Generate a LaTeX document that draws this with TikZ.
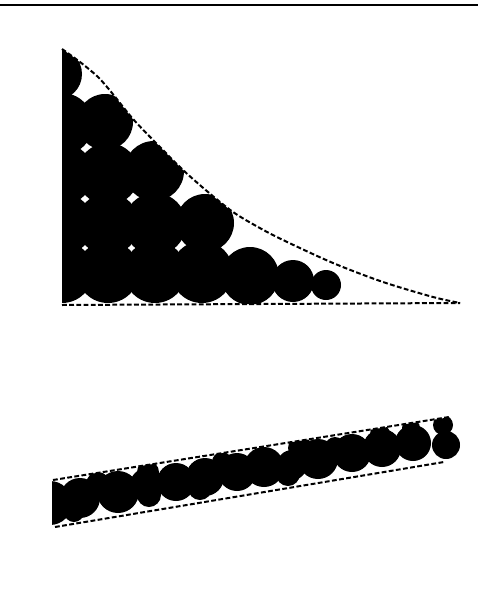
\documentclass[tikz,border=0pt]{standalone}
\begin{document}
\begin{tikzpicture}[x=0.5pt,y=-0.5pt,
  blob/.style={fill=black},
  guide/.style={draw=black,line width=1pt,dash pattern=on 2.4pt off 1.2pt},
  rule/.style={draw=black,line width=1.3pt}]
\useasboundingbox (0,0) rectangle (478,589);
\draw[rule] (0,5) -- (478,5);
% ---------- upper figure ----------
\def\curvepts{(62,49) (80,62) (98,77) (112,93) (133,119) (158,145) (183,170) (208,192) (233,212) (258,227) (283,240) (333,263) (383,282) (433,297) (460,303)}
\begin{scope}
  \clip plot[smooth] coordinates {\curvepts} -- (62,305) -- cycle;
  \foreach \x/\y/\r in {62/272/31,108/272/31,155/272/31,202/272/31,250/276/29,293/281/21,326/285/15,
                        62/224/31,108/224/31,155/224/31,205/223/29,
                        62/174/31,108/174/31,154/171/30,
                        62/124/31,105/122/28,
                        56/74/26}
    \fill[blob] (\x,\y) circle[radius=\r];
\end{scope}
\draw[guide] plot[smooth] coordinates {\curvepts};
\draw[guide] (62,305) -- (460,303);
% ---------- lower band ----------
\begin{scope}
  \clip (52,480) -- (470,414) -- (470,457) -- (52,528) -- cycle;
  \foreach \x/\y/\r in {50/503/22,80/498/20,118/492/21,147/485/17,176/482/19,205/477/19,237/472/19,
                        264/467/20,292/465/15,318/459/20,352/453/19,382/448/19,413/443/18,446/445/14,
                        74/512/10,149/495/12,200/488/12,288/474/12,
                        98/484/12,148/472/11,222/462/10,300/448/12,335/447/10,
                        380/434/10,411/428/9,443/425/10}
    \fill[blob] (\x,\y) circle[radius=\r];
\end{scope}
\draw[guide] (53,480) -- (449,417);
\draw[guide] (55,527) -- (444,462);
\end{tikzpicture}
\end{document}
